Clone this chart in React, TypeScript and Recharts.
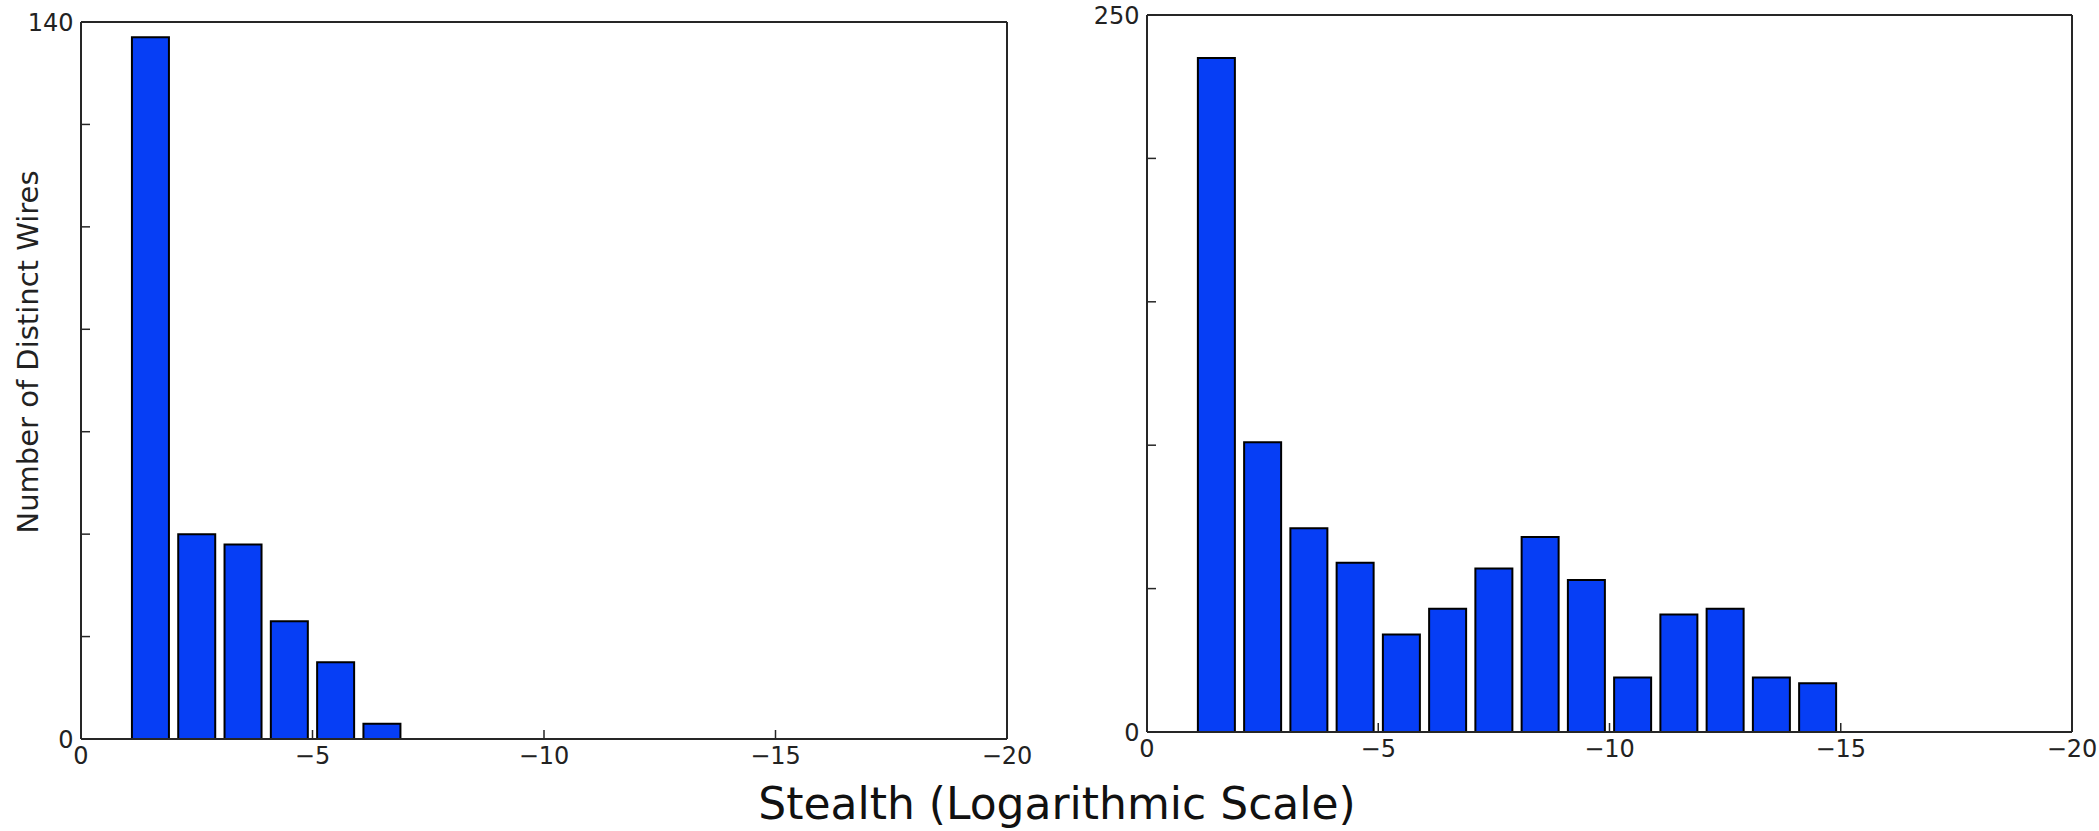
import React from 'react';
import { BarChart, Bar, XAxis, YAxis } from 'recharts';

// Bin centres on the stealth axis (log scale exponent)
const stealthBins = [
  -1.5, -2.5, -3.5, -4.5, -5.5, -6.5, -7.5, -8.5, -9.5, -10.5,
  -11.5, -12.5, -13.5, -14.5, -15.5, -16.5, -17.5, -18.5, -19.5,
];
const leftCounts = [137, 40, 38, 23, 15, 3, 0, 0, 0, 0, 0, 0, 0, 0, 0, 0, 0, 0, 0];
const rightCounts = [235, 101, 71, 59, 34, 43, 57, 68, 53, 19, 41, 43, 19, 17, 0, 0, 0, 0, 0];
const xTicks = [0, -5, -10, -15, -20];
const leftYTicks = [0, 20, 40, 60, 80, 100, 120, 140];
const rightYTicks = [0, 50, 100, 150, 200, 250];
const xLabel = 'Stealth (Logarithmic Scale)';
const yLabel = 'Number of Distinct Wires';

const FONT = 'DejaVu Sans';
const AXIS_COLOR = '#262626';
const BAR_COLOR = '#063ef5';

const fmtX = (v: number) => (v === 0 ? '0' : '\u2212' + Math.abs(v));

type PanelProps = {
  counts: number[];
  yTicks: number[];
  margin: { top: number; right: number; bottom: number; left: number };
};

function Panel({ counts, yTicks, margin }: PanelProps) {
  const data = stealthBins.map((s, i) => ({ stealth: s, count: counts[i] }));
  const yMax = yTicks[yTicks.length - 1];
  const fmtY = (v: number) => (v === 0 || v === yMax ? String(v) : '');
  const axisLine = { stroke: AXIS_COLOR, strokeWidth: 2 };
  const tickLine = { stroke: AXIS_COLOR, strokeWidth: 1.5 };
  const tickStyle = { fill: '#222', fontSize: 24, fontFamily: FONT };
  return (
    <div style={{ position: 'absolute', left: 0, top: 0 }}>
      <BarChart width={2099} height={831} data={data} margin={margin} barCategoryGap="10%">
        <XAxis
          xAxisId="b"
          dataKey="stealth"
          type="number"
          domain={[-20, 0]}
          allowDataOverflow
          reversed
          ticks={xTicks}
          interval={0}
          tickFormatter={fmtX}
          height={40}
          tickSize={-9}
          tickMargin={17}
          axisLine={axisLine}
          tickLine={tickLine}
          tick={tickStyle}
        />
        <XAxis
          xAxisId="t"
          orientation="top"
          type="number"
          domain={[-20, 0]}
          allowDataOverflow
          reversed
          ticks={xTicks}
          interval={0}
          height={1}
          tickSize={-9}
          axisLine={axisLine}
          tickLine={tickLine}
          tick={false}
        />
        <YAxis
          yAxisId="l"
          type="number"
          domain={[0, yMax]}
          allowDataOverflow
          ticks={yTicks}
          interval={0}
          tickFormatter={fmtY}
          width={70}
          tickSize={-9}
          tickMargin={16.4}
          axisLine={axisLine}
          tickLine={tickLine}
          tick={tickStyle}
        />
        <YAxis
          yAxisId="r"
          orientation="right"
          type="number"
          domain={[0, yMax]}
          allowDataOverflow
          ticks={yTicks}
          interval={0}
          width={1}
          tickSize={-9}
          axisLine={axisLine}
          tickLine={tickLine}
          tick={false}
        />
        <Bar
          xAxisId="b"
          yAxisId="l"
          dataKey="count"
          fill={BAR_COLOR}
          stroke="#000"
          strokeWidth={2}
          isAnimationActive={false}
        />
      </BarChart>
    </div>
  );
}

export default function App() {
  return (
    <div
      style={{
        position: 'absolute',
        left: 0,
        top: 0,
        width: 2099,
        height: 831,
        overflow: 'hidden',
        background: '#fff',
      }}
    >
      <Panel counts={leftCounts} yTicks={leftYTicks} margin={{ top: 21, right: 1091, bottom: 52, left: 11 }} />
      <Panel counts={rightCounts} yTicks={rightYTicks} margin={{ top: 14, right: 26, bottom: 59, left: 1077 }} />
      <svg
        width={2099}
        height={831}
        style={{ position: 'absolute', left: 0, top: 0, pointerEvents: 'none' }}
      >
        <text
          x={1057}
          y={819}
          textAnchor="middle"
          fontFamily={FONT}
          fontSize={44}
          fill="#111"
        >
          {xLabel}
        </text>
        <text
          transform="translate(38, 352) rotate(-90)"
          textAnchor="middle"
          fontFamily={FONT}
          fontSize={29}
          fill="#222"
        >
          {yLabel}
        </text>
      </svg>
    </div>
  );
}
